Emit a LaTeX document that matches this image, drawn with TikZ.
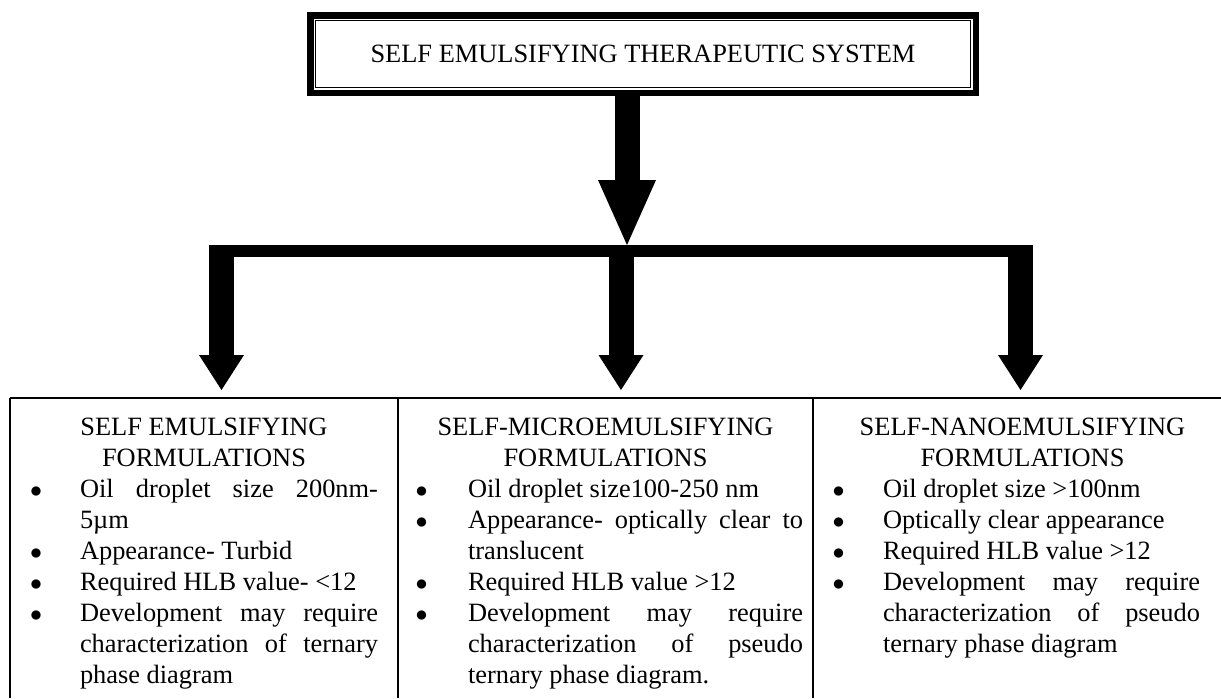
\documentclass[tikz,border=0pt]{standalone}
\usepackage{fontspec}
\setmainfont{Liberation Serif}
\usepackage{enumitem}
\usetikzlibrary{arrows.meta}
\hyphenpenalty=10000
\hbadness=10000
\tolerance=9999

\tikzset{
  txt/.style={font=\fontsize{13.2pt}{15.5pt}\selectfont, inner sep=0pt},
  titlebox/.style={txt, draw, line width=3.25pt, minimum width=332.75pt, minimum height=38.75pt},
  thinframe/.style={line width=0.6pt},
  colbox/.style={txt, anchor=base, align=justify},
  downarrow/.style={line width=12.5pt, -{Triangle[width=22.5pt,length=17.5pt,line width=0pt]}},
  bigarrow/.style={line width=12.5pt, -{Triangle[width=29pt,length=32.5pt,line width=0pt]}},
  crossbar/.style={line width=6pt},
  tableline/.style={line width=0.9pt}
}

\begin{document}
\begin{tikzpicture}[x=0.5pt, y=-0.5pt]
    \useasboundingbox (0,0) rectangle (1221,698);

    % title
    \node[titlebox] (title) at (643,54) {SELF EMULSIFYING THERAPEUTIC SYSTEM};
    \draw[thinframe] ([shift={(5.75,5.75)}]title.north west) rectangle ([shift={(-5.75,-5.75)}]title.south east);
    \draw[thinframe] ([shift={(8.75,8.75)}]title.north west) rectangle ([shift={(-8.75,-8.75)}]title.south east);

    % arrows
    \coordinate (hub) at (627,245);
    \draw[bigarrow] (hub |- title.south) -- (hub);
    \coordinate (barL) at (209,251);
    \coordinate (barR) at (1030,251);
    \draw[crossbar] (barL) -- (barR);
    \coordinate (tip1) at (221.5,390);
    \coordinate (tip2) at (621,390);
    \coordinate (tip3) at (1020.5,390);
    \draw[downarrow] (tip1 |- hub) -- (tip1);
    \draw[downarrow] (tip2 |- hub) -- (tip2);
    \draw[downarrow] (tip3 |- hub) -- (tip3);

    % table
    \coordinate (tabL) at (10,398);
    \coordinate (tabR) at (1221,398);
    \coordinate (sep1) at (398,398);
    \coordinate (sep2) at (813,398);
    \draw[tableline] (tabL) -- (tabR);
    \draw[tableline] (tabL) -- (tabL |- 0,698);
    \draw[tableline] (sep1) -- (sep1 |- 0,698);
    \draw[tableline] (sep2) -- (sep2 |- 0,698);

    \node[colbox, text width=174pt] (sef) at (204,435) {%
        {\centering SELF EMULSIFYING\\FORMULATIONS\par}
        \begin{itemize}[label=$\bullet$, nosep, leftmargin=25pt, labelsep=19pt]
            \item Oil droplet size 200nm-\linebreak 5µm
            \item Appearance- Turbid
            \item Required HLB value- <12
            \item Development may require\linebreak characterization of ternary\linebreak phase diagram
        \end{itemize}};
    \node[colbox, text width=197.5pt] (smef) at (605.5,435) {%
        {\centering SELF-MICROEMULSIFYING\\FORMULATIONS\par}
        \begin{itemize}[label=$\bullet$, nosep, leftmargin=30pt, labelsep=20.25pt]
            \item Oil droplet size100-250 nm
            \item Appearance- optically clear to\linebreak translucent
            \item Required HLB value >12
            \item Development may require\linebreak characterization of pseudo\linebreak ternary phase diagram.
        \end{itemize}};
    \node[colbox, text width=177.5pt] (snef) at (1022.5,435) {%
        {\centering SELF-NANOEMULSIFYING\\FORMULATIONS\par}
        \begin{itemize}[label=$\bullet$, nosep, leftmargin=19pt, labelsep=19.25pt]
            \item Oil droplet size >100nm
            \item Optically clear appearance
            \item Required HLB value >12
            \item Development may require\linebreak characterization of pseudo\linebreak ternary phase diagram
        \end{itemize}};
\end{tikzpicture}
\end{document}
